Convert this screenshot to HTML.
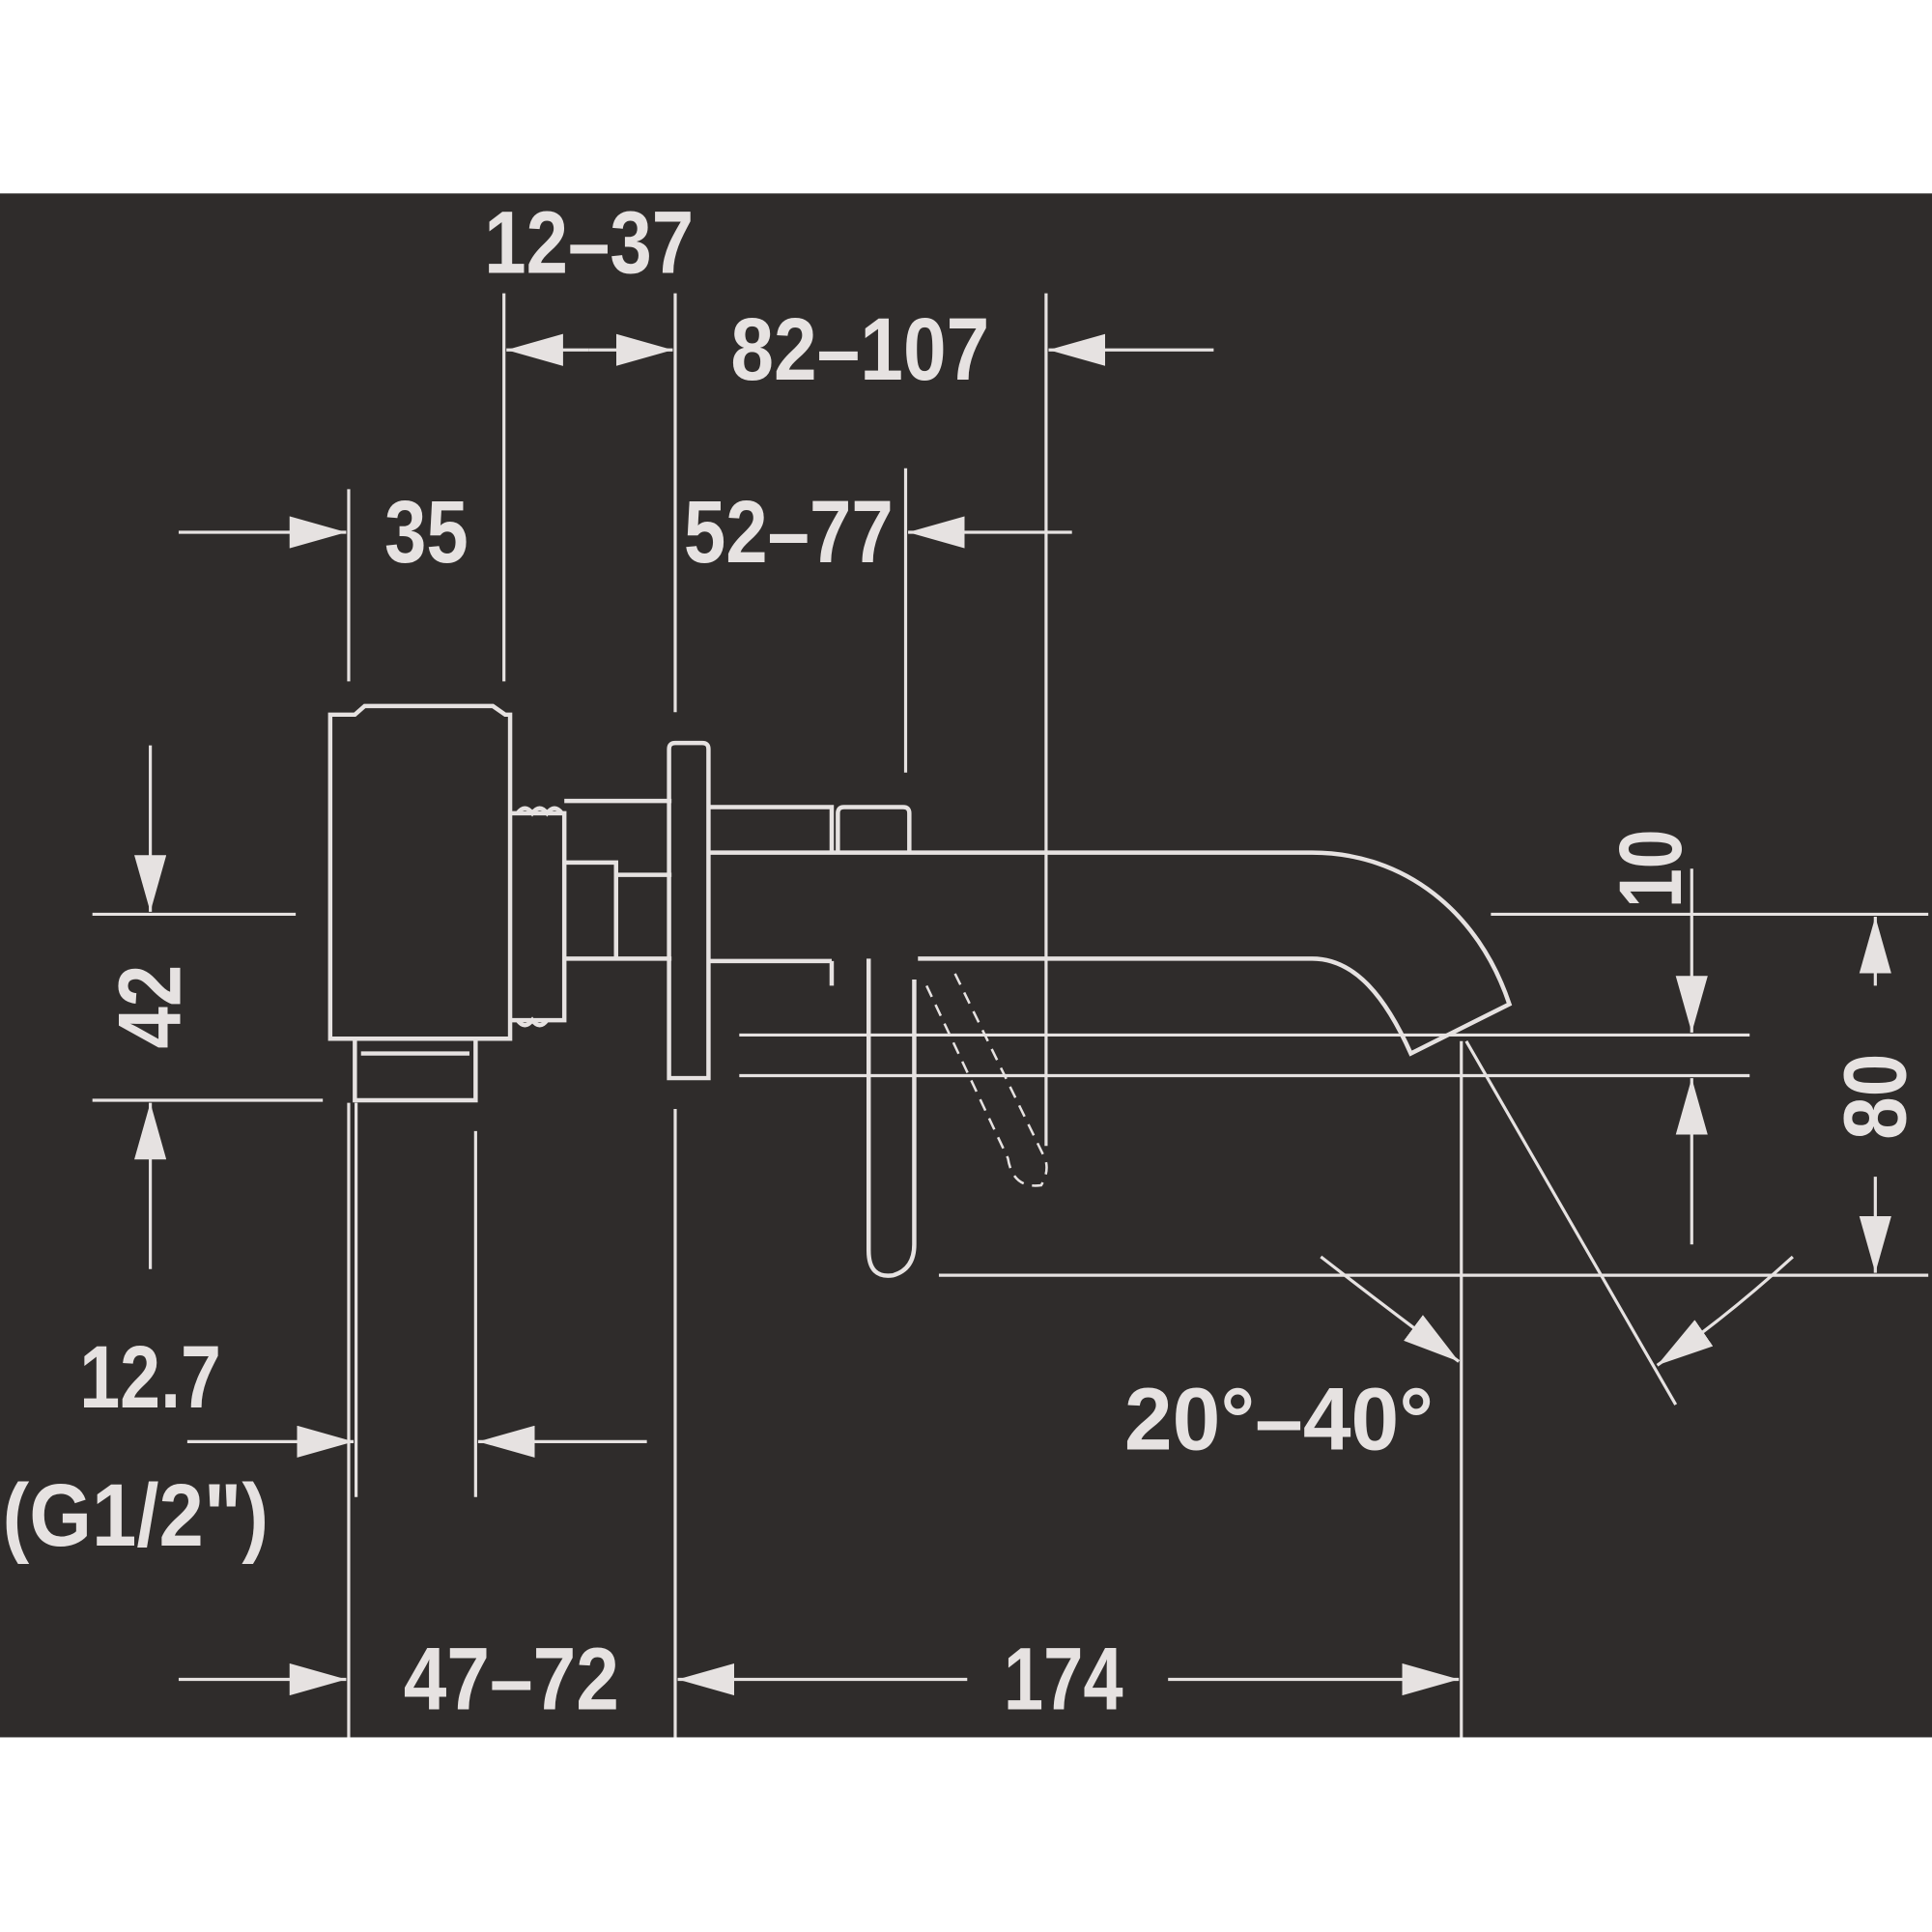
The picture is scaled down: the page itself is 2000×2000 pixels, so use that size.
<!DOCTYPE html>
<html><head><meta charset="utf-8"><style>
html,body{margin:0;padding:0;background:#fff}
svg{display:block}
text{font-family:"Liberation Sans",sans-serif;font-weight:bold;fill:#e6e2e1;font-size:72px;text-anchor:middle;dominant-baseline:central}
</style></head><body>
<svg width="2000" height="2000" viewBox="0 0 1568 1568" xmlns="http://www.w3.org/2000/svg">
<defs>
<marker id="a" markerUnits="userSpaceOnUse" markerWidth="48" markerHeight="26" refX="46" refY="13" orient="auto">
<path d="M0,0 L46,13 L0,26 Z" fill="#e6e2e1"/></marker>
</defs>
<rect x="0" y="157" width="1568" height="1253" fill="#2f2c2b"/>
<g stroke="#e6e2e1" fill="none" stroke-width="2.5">
<line x1="283" y1="397" x2="283" y2="553"/>
<line x1="409" y1="238" x2="409" y2="553"/>
<line x1="548" y1="238" x2="548" y2="578"/>
<line x1="548" y1="900" x2="548" y2="1410"/>
<line x1="735" y1="380" x2="735" y2="627"/>
<line x1="849" y1="238" x2="849" y2="930"/>
<line x1="283" y1="895" x2="283" y2="1410"/>
<line x1="289" y1="895" x2="289" y2="1215"/>
<line x1="386" y1="918" x2="386" y2="1215"/>
<line x1="1186" y1="845" x2="1186" y2="1410"/>
<line x1="1190" y1="845" x2="1360" y2="1140"/>
<line x1="75" y1="742" x2="240" y2="742"/>
<line x1="75" y1="893" x2="262" y2="893"/>
<line x1="600" y1="840" x2="1420" y2="840"/>
<line x1="600" y1="873" x2="1420" y2="873"/>
<line x1="762" y1="1035" x2="1565" y2="1035"/>
<line x1="1210" y1="742" x2="1565" y2="742"/>
<line x1="478" y1="284" x2="411" y2="284" marker-end="url(#a)"/>
<line x1="478" y1="284" x2="546" y2="284" marker-end="url(#a)"/>
<line x1="985" y1="284" x2="851" y2="284" marker-end="url(#a)"/>
<line x1="145" y1="432" x2="281" y2="432" marker-end="url(#a)"/>
<line x1="870" y1="432" x2="737" y2="432" marker-end="url(#a)"/>
<line x1="122" y1="605" x2="122" y2="740" marker-end="url(#a)"/>
<line x1="122" y1="1030" x2="122" y2="895" marker-end="url(#a)"/>
<line x1="152" y1="1170" x2="287" y2="1170" marker-end="url(#a)"/>
<line x1="525" y1="1170" x2="388" y2="1170" marker-end="url(#a)"/>
<line x1="145" y1="1363" x2="281" y2="1363" marker-end="url(#a)"/>
<line x1="785" y1="1363" x2="550" y2="1363" marker-end="url(#a)"/>
<line x1="948" y1="1363" x2="1184" y2="1363" marker-end="url(#a)"/>
<line x1="1373" y1="705" x2="1373" y2="838" marker-end="url(#a)"/>
<line x1="1373" y1="1010" x2="1373" y2="875" marker-end="url(#a)"/>
<line x1="1522" y1="800" x2="1522" y2="744" marker-end="url(#a)"/>
<line x1="1522" y1="955" x2="1522" y2="1033" marker-end="url(#a)"/>
<path d="M1072,1020 Q1130,1065 1184,1105" marker-end="url(#a)"/>
<path d="M1455,1020 Q1400,1070 1345,1108" marker-end="url(#a)"/>
</g>
<g stroke="#e6e2e1" fill="none" stroke-width="3.5">
<path d="M268,843 V580 H288 L296,573 H400 L410,580 H414 V843 Z"/>
<path d="M288,843 V893 H386 V843"/>
<path d="M293,855 H381"/>
<path d="M414,660 H458 V828 H414"/>
<path d="M420,660 q6,-8 12,0 q6,-8 12,0 q6,-8 12,0"/>
<path d="M420,828 q6,8 12,0 q6,8 12,0"/>
<path d="M458,650 H545 M458,700 H500 V778 H545 M500,710 H545 M458,778 H500"/>
<path d="M543,875 V608 Q543,603 548,603 H570 Q575,603 575,608 V875 Z"/>
<path d="M575,655 H675 V692 M575,780 H675 M675,780 V800"/>
<path d="M680,692 V660 Q680,655 685,655 H733 Q738,655 738,660 V692"/>
<path d="M575,692 H1065 C1140,692 1200,740 1225,815 L1145,855 C1125,810 1100,778 1065,778 H745"/>
<path d="M705,778 V1015 Q705,1038 725,1035 Q742,1030 742,1010 V795"/>
</g>
<path d="M752,800 L818,940 Q822,965 845,962 Q852,950 848,940 L775,790" stroke="#e6e2e1" stroke-width="2" fill="none" stroke-dasharray="10,7"/>
<text x="478" y="197" textLength="170" lengthAdjust="spacingAndGlyphs">12–37</text>
<text x="698" y="284" textLength="210" lengthAdjust="spacingAndGlyphs">82–107</text>
<text x="346" y="432" textLength="68" lengthAdjust="spacingAndGlyphs">35</text>
<text x="640" y="432" textLength="170" lengthAdjust="spacingAndGlyphs">52–77</text>
<text x="122" y="817" transform="rotate(-90 122 817)" textLength="68" lengthAdjust="spacingAndGlyphs">42</text>
<text x="122" y="1118" textLength="115" lengthAdjust="spacingAndGlyphs">12.7</text>
<text x="110" y="1230" textLength="216" lengthAdjust="spacingAndGlyphs">(G1/2")</text>
<text x="415" y="1363" textLength="175" lengthAdjust="spacingAndGlyphs">47–72</text>
<text x="863" y="1363" textLength="97" lengthAdjust="spacingAndGlyphs">174</text>
<text x="1340" y="705" transform="rotate(-90 1340 705)" textLength="64" lengthAdjust="spacingAndGlyphs">10</text>
<text x="1522" y="890" transform="rotate(-90 1522 890)" textLength="70" lengthAdjust="spacingAndGlyphs">80</text>
<text x="1038" y="1152" textLength="251" lengthAdjust="spacingAndGlyphs">20°–40°</text>
</svg>
</body></html>
